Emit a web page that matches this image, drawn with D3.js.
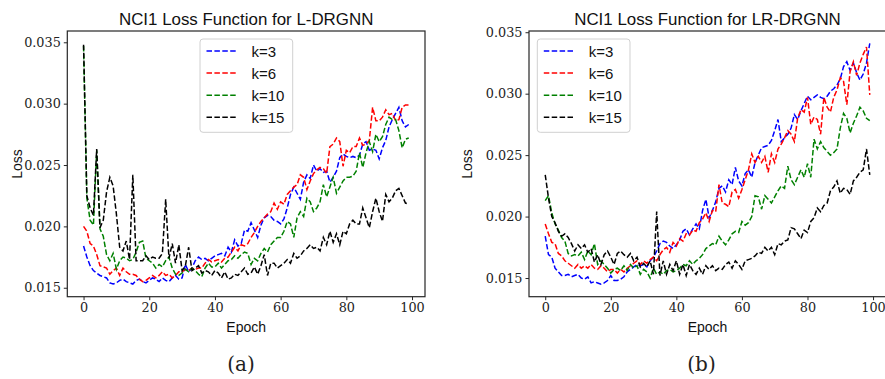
<!DOCTYPE html>
<html><head><meta charset="utf-8">
<script src="https://cdn.jsdelivr.net/npm/d3@7"></script>
<style>body{margin:0;background:#fff} svg{display:block}</style>
</head><body>
<svg id="c" width="885" height="379"></svg>
<script>
const epochs = d3.range(100);
const seriesLabels = ["k=3", "k=6", "k=10", "k=15"];
const seriesColors = ["#0000ff", "#ff0000", "#008000", "#000000"];
const yTicks = [0.015, 0.020, 0.025, 0.030, 0.035];
const xTicks = [0, 20, 40, 60, 80, 100];
const titles = ["NCI1 Loss Function for L-DRGNN", "NCI1 Loss Function for LR-DRGNN"];
const captions = ["(a)", "(b)"];

const L_k3 = [.0184,.0175,.0168,.0164,.0162,.0160,.0159,.0158,.0154,.0153,
.0154,.0156,.0157,.0155,.0154,.0153,.0156,.0157,.0155,.0154,
.0156,.0158,.0157,.0155,.0158,.0156,.0155,.0158,.0160,.0157,
.0158,.0169,.0163,.0166,.0172,.0175,.0173,.0174,.0172,.0174,
.0176,.0177,.0178,.0176,.0183,.0179,.0189,.0184,.0186,.0197,
.0196,.0203,.0197,.0191,.0201,.0207,.0209,.0208,.0205,.0204,
.0202,.0206,.0215,.0226,.0232,.0227,.0222,.0236,.0242,.0239,
.0250,.0245,.0247,.0244,.0245,.0236,.0240,.0245,.0256,.0259,
.0257,.0256,.0257,.0256,.0258,.0267,.0269,.0262,.0263,.0262,
.0255,.0264,.0270,.0281,.0287,.0292,.0297,.0286,.0281,.0283];
const L_k6 = [.0200,.0196,.0186,.0184,.0177,.0168,.0167,.0166,.0161,.0164,
.0166,.0160,.0166,.0163,.0161,.0161,.0160,.0157,.0155,.0156,
.0158,.0160,.0158,.0160,.0163,.0160,.0161,.0158,.0160,.0163,
.0163,.0165,.0164,.0166,.0165,.0166,.0166,.0170,.0173,.0171,
.0172,.0173,.0171,.0174,.0175,.0179,.0183,.0180,.0185,.0184,
.0186,.0191,.0195,.0200,.0204,.0207,.0210,.0212,.0219,.0214,
.0220,.0218,.0226,.0229,.0232,.0234,.0242,.0240,.0230,.0237,
.0243,.0246,.0248,.0247,.0243,.0265,.0267,.0272,.0269,.0249,
.0262,.0260,.0265,.0265,.0272,.0266,.0267,.0270,.0297,.0286,
.0286,.0289,.0295,.0291,.0292,.0286,.0287,.0297,.0299,.0299];
const L_k10 = [.0347,.0223,.0205,.0201,.0262,.0198,.0192,.0177,.0172,.0178,
.0165,.0172,.0175,.0174,.0172,.0173,.0179,.0187,.0188,.0174,
.0172,.0170,.0166,.0169,.0167,.0172,.0175,.0166,.0161,.0160,
.0162,.0165,.0163,.0166,.0164,.0161,.0159,.0166,.0170,.0167,
.0167,.0170,.0166,.0169,.0172,.0173,.0176,.0174,.0177,.0179,
.0178,.0169,.0174,.0172,.0178,.0182,.0179,.0185,.0188,.0191,
.0191,.0196,.0204,.0202,.0191,.0207,.0212,.0208,.0223,.0220,
.0212,.0215,.0220,.0234,.0224,.0232,.0240,.0227,.0232,.0237,
.0240,.0240,.0241,.0245,.0260,.0248,.0260,.0269,.0261,.0275,
.0269,.0273,.0283,.0289,.0287,.0287,.0278,.0264,.0271,.0272];
const L_k15 = [.0348,.0225,.0215,.0209,.0263,.0199,.0205,.0228,.0240,.0233,
.0210,.0183,.0180,.0188,.0173,.0242,.0172,.0172,.0172,.0176,
.0173,.0175,.0174,.0174,.0178,.0222,.0174,.0186,.0170,.0185,
.0164,.0168,.0183,.0164,.0166,.0168,.0162,.0164,.0163,.0160,
.0164,.0162,.0158,.0163,.0157,.0158,.0161,.0160,.0163,.0166,
.0161,.0162,.0167,.0161,.0168,.0177,.0160,.0170,.0170,.0166,
.0168,.0170,.0173,.0170,.0178,.0174,.0176,.0180,.0182,.0185,
.0182,.0183,.0180,.0191,.0185,.0196,.0187,.0194,.0185,.0196,
.0194,.0202,.0205,.0202,.0202,.0215,.0207,.0199,.0212,.0223,
.0212,.0204,.0226,.0220,.0223,.0229,.0231,.0225,.0219,.0218];

const R_k3 = [.0184,.0169,.0167,.0158,.0155,.0152,.0152,.0153,.0151,.0152,
.0153,.0150,.0149,.0151,.0146,.0147,.0146,.0145,.0146,.0148,
.0152,.0148,.0148,.0149,.0151,.0155,.0157,.0159,.0161,.0160,
.0161,.0159,.0164,.0167,.0172,.0178,.0180,.0179,.0176,.0174,
.0177,.0181,.0188,.0190,.0185,.0190,.0194,.0190,.0205,.0214,
.0199,.0205,.0212,.0223,.0225,.0220,.0230,.0226,.0240,.0229,
.0225,.0235,.0238,.0232,.0244,.0250,.0256,.0257,.0258,.0262,
.0270,.0279,.0261,.0264,.0267,.0272,.0283,.0279,.0286,.0292,
.0298,.0295,.0297,.0299,.0297,.0296,.0298,.0302,.0304,.0307,
.0312,.0322,.0326,.0319,.0325,.0317,.0311,.0316,.0325,.0341];
const R_k6 = [.0194,.0186,.0179,.0178,.0170,.0168,.0164,.0162,.0160,.0158,
.0161,.0158,.0160,.0158,.0161,.0158,.0157,.0160,.0158,.0155,
.0157,.0157,.0154,.0157,.0155,.0158,.0160,.0162,.0164,.0161,
.0164,.0162,.0165,.0167,.0164,.0169,.0173,.0175,.0171,.0179,
.0176,.0182,.0180,.0186,.0185,.0189,.0188,.0195,.0198,.0203,
.0196,.0205,.0204,.0226,.0211,.0210,.0208,.0220,.0222,.0215,
.0222,.0230,.0238,.0251,.0244,.0249,.0244,.0249,.0236,.0251,
.0244,.0255,.0259,.0264,.0270,.0267,.0261,.0280,.0287,.0285,
.0297,.0275,.0281,.0279,.0267,.0297,.0289,.0285,.0297,.0303,
.0313,.0310,.0291,.0318,.0326,.0315,.0325,.0332,.0338,.0299];
const R_k10 = [.0213,.0217,.0203,.0194,.0189,.0183,.0180,.0170,.0168,.0169,
.0168,.0171,.0165,.0172,.0169,.0178,.0161,.0164,.0161,.0158,
.0154,.0157,.0158,.0156,.0160,.0156,.0161,.0158,.0160,.0153,
.0157,.0155,.0150,.0158,.0153,.0155,.0153,.0156,.0157,.0155,
.0156,.0158,.0161,.0160,.0164,.0161,.0164,.0166,.0169,.0174,
.0176,.0178,.0177,.0184,.0180,.0177,.0181,.0186,.0188,.0187,
.0196,.0193,.0195,.0200,.0217,.0216,.0206,.0217,.0214,.0211,
.0216,.0221,.0225,.0223,.0241,.0230,.0226,.0232,.0238,.0232,
.0243,.0232,.0263,.0255,.0261,.0256,.0253,.0250,.0252,.0255,
.0272,.0284,.0280,.0268,.0276,.0282,.0289,.0286,.0280,.0278];
const R_k15 = [.0234,.0215,.0200,.0195,.0188,.0184,.0186,.0183,.0178,.0172,
.0177,.0174,.0177,.0171,.0174,.0163,.0169,.0161,.0169,.0172,
.0167,.0161,.0170,.0172,.0169,.0167,.0170,.0164,.0167,.0159,
.0162,.0159,.0164,.0153,.0204,.0152,.0164,.0153,.0161,.0156,
.0164,.0153,.0161,.0152,.0161,.0156,.0153,.0158,.0153,.0160,
.0157,.0160,.0156,.0158,.0157,.0161,.0163,.0158,.0164,.0161,
.0157,.0164,.0165,.0166,.0168,.0171,.0170,.0175,.0172,.0175,
.0169,.0178,.0177,.0180,.0181,.0191,.0190,.0186,.0182,.0189,
.0187,.0196,.0199,.0207,.0204,.0209,.0211,.0221,.0224,.0229,
.0219,.0223,.0222,.0218,.0229,.0232,.0236,.0238,.0255,.0234];

const panels = [
  {title: titles[0], caption: captions[0], series: [L_k3, L_k6, L_k10, L_k15],
   x0: 67.3, x1: 425, yDomain: [0.01427, 0.03592], capX: 241, legX: 200, ylabX: 22.3},
  {title: titles[1], caption: captions[1], series: [R_k3, R_k6, R_k10, R_k15],
   x0: 529, x1: 886, yDomain: [0.01348, 0.0351], capX: 701.5, legX: 537.3, ylabX: 472}
];

const svg = d3.select("#c");
const plotTop = 31, plotBottom = 296.7;
const serif = "'DejaVu Serif', serif";
const sans = "'Liberation Sans', Arial, sans-serif";
const axisColor = "#262626";

panels.forEach(p => {
  const x = d3.scaleLinear().domain([-4.95, 103.95]).range([p.x0, p.x1]);
  const y = d3.scaleLinear().domain(p.yDomain).range([plotBottom, plotTop]);
  const g = svg.append("g");

  const line = d3.line().x((d, i) => x(epochs[i])).y(d => y(d));
  p.series.forEach((s, i) => {
    g.append("path").datum(s)
      .attr("d", line)
      .attr("fill", "none")
      .attr("stroke", seriesColors[i])
      .attr("stroke-width", 1.5)
      .attr("stroke-dasharray", "5.5,2.4");
  });

  g.append("rect").attr("x", p.x0).attr("y", plotTop)
    .attr("width", p.x1 - p.x0).attr("height", plotBottom - plotTop)
    .attr("fill", "none").attr("stroke", axisColor).attr("stroke-width", 1.2);

  const xa = g.append("g").attr("transform", `translate(0,${plotBottom})`)
    .call(d3.axisBottom(x).tickValues(xTicks).tickSize(3.5).tickPadding(3).tickFormat(d3.format("d")));
  xa.select(".domain").remove();
  xa.selectAll("line").attr("stroke", axisColor);
  xa.selectAll("text").attr("font-family", serif).attr("font-size", 12.8).attr("fill", "#222");

  const ya = g.append("g").attr("transform", `translate(${p.x0},0)`)
    .call(d3.axisLeft(y).tickValues(yTicks).tickSize(3.5).tickPadding(3).tickFormat(d3.format(".3f")));
  ya.select(".domain").remove();
  ya.selectAll("line").attr("stroke", axisColor);
  ya.selectAll("text").attr("font-family", serif).attr("font-size", 12.8).attr("fill", "#222");

  g.append("text").attr("x", (p.x0 + p.x1) / 2).attr("y", 25)
    .attr("text-anchor", "middle").attr("font-family", sans).attr("font-size", 16.9)
    .attr("fill", "#111").text(p.title);

  g.append("text").attr("x", (p.x0 + p.x1) / 2).attr("y", 331.5)
    .attr("text-anchor", "middle").attr("font-family", sans).attr("font-size", 14)
    .attr("fill", "#111").text("Epoch");
  g.append("text").attr("transform", `translate(${p.ylabX},164) rotate(-90)`)
    .attr("text-anchor", "middle").attr("font-family", sans).attr("font-size", 14)
    .attr("fill", "#111").text("Loss");

  g.append("text").attr("x", p.capX).attr("y", 371)
    .attr("text-anchor", "middle").attr("font-family", serif).attr("font-size", 20)
    .attr("fill", "#222").text(p.caption);

  const lg = g.append("g").attr("transform", `translate(${p.legX},39)`);
  lg.append("rect").attr("width", 92.7).attr("height", 93.3).attr("rx", 3)
    .attr("fill", "#fff").attr("fill-opacity", 0.8)
    .attr("stroke", "#d0d0d0").attr("stroke-width", 1);
  seriesLabels.forEach((lab, i) => {
    const yy = 12 + i * 22.1;
    lg.append("line").attr("x1", 6.5).attr("x2", 38).attr("y1", yy).attr("y2", yy)
      .attr("stroke", seriesColors[i]).attr("stroke-width", 1.5)
      .attr("stroke-dasharray", "5.5,2.4");
    lg.append("text").attr("x", 51.5).attr("y", yy + 5.5)
      .attr("font-family", sans).attr("font-size", 15).attr("fill", "#111").text(lab);
  });
});
</script>
</body></html>
